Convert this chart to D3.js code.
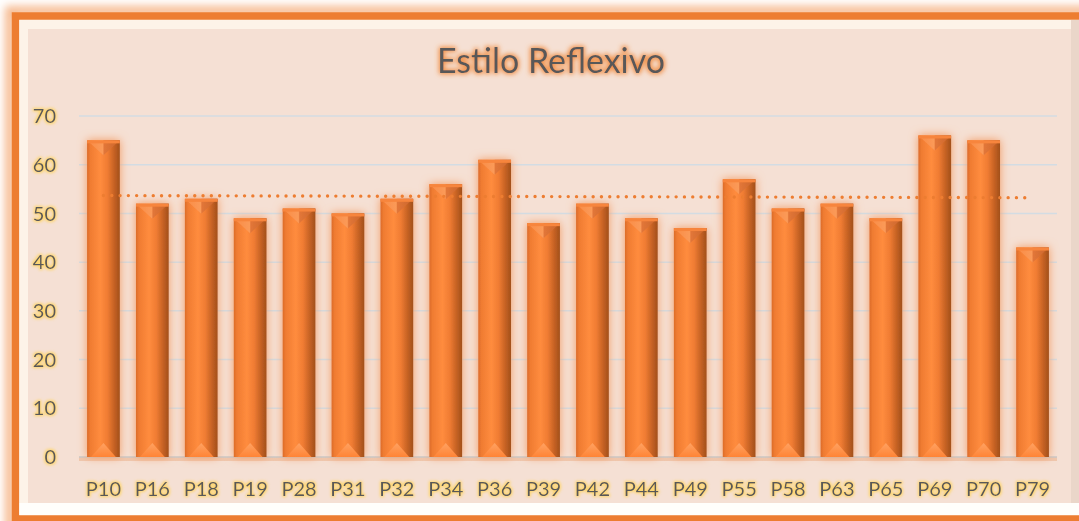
<!DOCTYPE html>
<html>
<head>
<meta charset="utf-8">
<script src="https://cdn.jsdelivr.net/npm/d3@7"></script>
<style>
  body { margin: 0; background: #fff; overflow: hidden; }
  svg { display: block; font-family: Lato, "Open Sans", sans-serif; }
</style>
</head>
<body>
<div id="chart"></div>
<script>
// Chart data
const categories = ['P10', 'P16', 'P18', 'P19', 'P28', 'P31', 'P32', 'P34', 'P36', 'P39',
                    'P42', 'P44', 'P49', 'P55', 'P58', 'P63', 'P65', 'P69', 'P70', 'P79'];
const values = [65, 52, 53, 49, 51, 50, 53, 56, 61, 48, 52, 49, 47, 57, 51, 52, 49, 66, 65, 43];
const yTicks = [0, 10, 20, 30, 40, 50, 60, 70];
const title = 'Estilo Reflexivo';

const W = 1079, H = 521;
const margin = { top: 116, right: 22, bottom: 64, left: 79 };
const width = W - margin.left - margin.right;
const height = H - margin.top - margin.bottom;

const root = d3.select('#chart').append('svg')
    .attr('width', W)
    .attr('height', H);

const defs = root.append('defs');

// orange glow for the frame
const fGlow = defs.append('filter').attr('id', 'frameGlow')
    .attr('x', '-5%').attr('y', '-5%').attr('width', '110%').attr('height', '110%');
fGlow.append('feGaussianBlur').attr('stdDeviation', 4);

// glow behind bars
const fBar = defs.append('filter').attr('id', 'barGlow')
    .attr('x', '-60%').attr('y', '-20%').attr('width', '220%').attr('height', '140%');
fBar.append('feGaussianBlur').attr('in', 'SourceAlpha').attr('stdDeviation', 5).attr('result', 'b');
fBar.append('feFlood').attr('flood-color', '#F39A62').attr('flood-opacity', 1);
fBar.append('feComposite').attr('in2', 'b').attr('operator', 'in').attr('result', 'g');
const mb = fBar.append('feMerge');
mb.append('feMergeNode').attr('in', 'g');
mb.append('feMergeNode').attr('in', 'SourceGraphic');

// text glows
function textGlow(id, color, sd, op) {
    const f = defs.append('filter').attr('id', id)
        .attr('x', '-20%').attr('y', '-40%').attr('width', '140%').attr('height', '180%');
    f.append('feMorphology').attr('in', 'SourceAlpha').attr('operator', 'dilate').attr('radius', 1).attr('result', 'd');
    f.append('feGaussianBlur').attr('in', 'd').attr('stdDeviation', sd).attr('result', 'b');
    f.append('feFlood').attr('flood-color', color).attr('flood-opacity', op);
    f.append('feComposite').attr('in2', 'b').attr('operator', 'in').attr('result', 'g');
    const m = f.append('feMerge');
    m.append('feMergeNode').attr('in', 'g');
    m.append('feMergeNode').attr('in', 'SourceGraphic');
}
textGlow('titleGlow', '#F08A3C', 2.4, 1);
textGlow('tickGlow', '#FFD45E', 1.8, 0.9);

// bar body gradient
const gBody = defs.append('linearGradient').attr('id', 'barBody')
    .attr('x1', 0).attr('x2', 1).attr('y1', 0).attr('y2', 0);
[['0%', '#DC6C2A'], ['10%', '#F07C32'], ['40%', '#FF8C3E'], ['62%', '#F07C33'],
 ['85%', '#C15F22'], ['100%', '#A2501C']].forEach(s =>
    gBody.append('stop').attr('offset', s[0]).attr('stop-color', s[1]));

// top bevel gradient
const gTop = defs.append('linearGradient').attr('id', 'barTop')
    .attr('x1', 0).attr('x2', 1).attr('y1', 0).attr('y2', 0);
[['0%', '#F98A44'], ['48%', '#FB9A58'], ['52%', '#E27638'], ['100%', '#C9652B']].forEach(s =>
    gTop.append('stop').attr('offset', s[0]).attr('stop-color', s[1]));

// bottom bevel gradient
const gBot = defs.append('linearGradient').attr('id', 'barBot')
    .attr('x1', 0).attr('x2', 0).attr('y1', 0).attr('y2', 1);
[['0%', '#FFA262'], ['100%', '#FF8435']].forEach(s =>
    gBot.append('stop').attr('offset', s[0]).attr('stop-color', s[1]));

// ---- frame ----
root.append('rect')
    .attr('x', 10).attr('y', 11).attr('width', W + 20).attr('height', H)
    .attr('fill', 'none').attr('stroke', '#F6B98F').attr('stroke-width', 10)
    .attr('filter', 'url(#frameGlow)');
root.append('rect')
    .attr('x', 15.5).attr('y', 16).attr('width', W + 20).attr('height', 503)
    .attr('fill', '#FFF9F0').attr('stroke', '#ED7D31').attr('stroke-width', 7.5);
// inner bevel edges
root.append('rect').attr('x', 19.5).attr('y', 20).attr('width', W).attr('height', 495)
    .attr('fill', '#FDF3E8');
root.append('rect').attr('x', 1071).attr('y', 20).attr('width', 10).attr('height', 495)
    .attr('fill', '#EAD6C9');
root.append('rect').attr('x', 19.5).attr('y', 503).attr('width', W).attr('height', 12)
    .attr('fill', '#FFFEFB');
root.append('rect').attr('x', 28).attr('y', 29).attr('width', 1043).attr('height', 474)
    .attr('fill', '#F5E0D4');

// ---- title ----
root.append('text')
    .attr('x', 551).attr('y', 73)
    .attr('text-anchor', 'middle')
    .style('font-size', '34px')
    .style('fill', '#595959')
    .attr('filter', 'url(#titleGlow)')
    .text(title);

const svg = root.append('g')
    .attr('transform', `translate(${margin.left},${margin.top})`);

// Scales
const xScale = d3.scaleBand()
    .domain(categories)
    .range([0, width])
    .paddingInner(0.33)
    .paddingOuter(0.165);

const yScale = d3.scaleLinear()
    .domain([0, 70])
    .range([height, 0]);

// gridlines
svg.selectAll('.grid')
    .data(yTicks.filter(t => t > 0))
    .enter()
    .append('line')
    .attr('x1', 0).attr('x2', width)
    .attr('y1', d => yScale(d)).attr('y2', d => yScale(d))
    .attr('stroke', '#D3DCE3')
    .attr('stroke-width', 1.5);

// axis baseline with soft shadow
svg.append('rect')
    .attr('x', 0).attr('y', height).attr('width', width).attr('height', 4)
    .attr('fill', '#EFC7AE');
svg.append('line')
    .attr('x1', 0).attr('x2', width)
    .attr('y1', height).attr('y2', height)
    .attr('stroke', '#C9C9C9').attr('stroke-width', 1.5);

// bars
const bw = xScale.bandwidth();
const bars = svg.selectAll('.bar')
    .data(categories.map((c, i) => ({ cat: c, val: values[i] })))
    .enter()
    .append('g')
    .attr('class', 'bar')
    .attr('filter', 'url(#barGlow)');

bars.append('rect')
    .attr('x', d => xScale(d.cat))
    .attr('y', d => yScale(d.val))
    .attr('width', bw)
    .attr('height', d => yScale(0) - yScale(d.val))
    .attr('fill', 'url(#barBody)');

// top bevel: downward V
bars.append('path')
    .attr('d', d => {
        const x = xScale(d.cat), y = yScale(d.val);
        return `M${x},${y}L${x + bw},${y}L${x + bw / 2},${y + 15}Z`;
    })
    .attr('fill', 'url(#barTop)');
bars.append('rect')
    .attr('x', d => xScale(d.cat))
    .attr('y', d => yScale(d.val))
    .attr('width', bw)
    .attr('height', 3)
    .attr('fill', '#F7853C');

// bottom bevel: bright upward triangle
bars.append('path')
    .attr('d', d => {
        const x = xScale(d.cat), y = yScale(0);
        return `M${x + 4},${y}L${x + bw / 2},${y - 14}L${x + bw - 4},${y}Z`;
    })
    .attr('fill', 'url(#barBot)');

// linear trendline (least squares over category index)
const n = values.length;
const xm = d3.mean(values, (v, i) => i);
const ym = d3.mean(values);
const slope = d3.sum(values, (v, i) => (i - xm) * (v - ym)) / d3.sum(values, (v, i) => (i - xm) * (i - xm));
const icpt = ym - slope * xm;
const trend = [0, n - 1].map(i => [xScale(categories[i]) + bw / 2, yScale(icpt + slope * i)]);
svg.append('path')
    .attr('d', d3.line()(trend))
    .attr('fill', 'none')
    .attr('stroke', '#ED7D31')
    .attr('stroke-width', 3.4)
    .attr('stroke-linecap', 'round')
    .attr('stroke-dasharray', '0 8.3');

// y axis labels
svg.selectAll('.ytick')
    .data(yTicks)
    .enter()
    .append('text')
    .attr('x', -23)
    .attr('y', d => yScale(d))
    .attr('dy', '0.36em')
    .attr('text-anchor', 'end')
    .style('font-size', '20px')
    .style('fill', '#595959')
    .attr('filter', 'url(#tickGlow)')
    .text(d => d);

// x axis labels
svg.selectAll('.xtick')
    .data(categories)
    .enter()
    .append('text')
    .attr('x', d => xScale(d) + bw / 2)
    .attr('y', height + 32)
    .attr('dy', '0.36em')
    .attr('text-anchor', 'middle')
    .style('font-size', '20px')
    .style('fill', '#595959')
    .attr('filter', 'url(#tickGlow)')
    .text(d => d);
</script>
</body>
</html>
